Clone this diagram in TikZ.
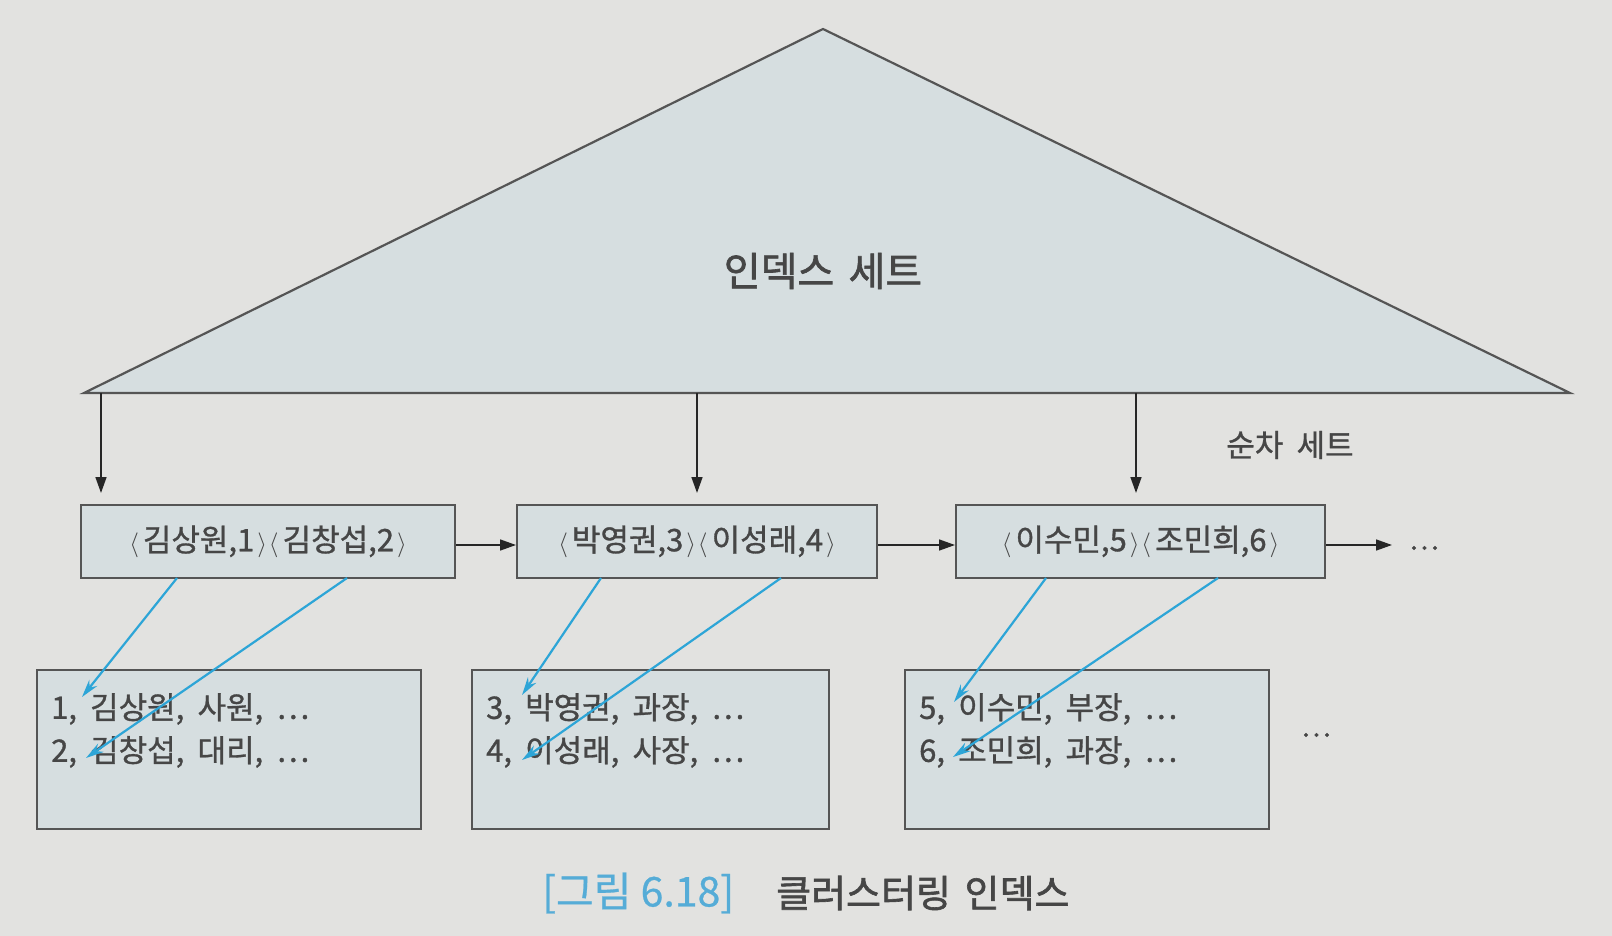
\documentclass[tikz,border=0pt]{standalone}
\usepackage{fontspec}
\setmainfont{Noto Sans CJK KR}
\newfontfamily\krmed{Noto Sans CJK KR}[FakeBold=1.0, WordSpace=1.9]
\newfontfamily\krbold{Noto Sans CJK KR}[FakeBold=1.6, WordSpace=1.6]
\newfontfamily\krcap{Noto Sans CJK KR}[FakeBold=0.6]
\usetikzlibrary{arrows.meta,calc}
\definecolor{bgc}{RGB}{226,226,224}
\definecolor{fillc}{RGB}{214,222,224}
\definecolor{linec}{RGB}{85,85,85}
\definecolor{txtc}{RGB}{70,70,70}
\definecolor{bluec}{RGB}{45,165,215}
\definecolor{capblue}{RGB}{85,172,215}
\newcommand{\lab}{\kern1pt$\langle$\kern4pt}
\newcommand{\rab}{\kern3pt$\rangle$\kern1pt}
\tikzset{
  tri/.style={draw=linec, fill=fillc, line width=2.2pt, line join=miter},
  topbox/.style={draw=linec, fill=fillc, line width=2pt, minimum height=73pt, inner sep=0pt,
    text=txtc, font=\krmed\fontsize{31}{36}\selectfont},
  botbox/.style={draw=linec, fill=fillc, line width=2pt, minimum height=159pt, inner sep=0pt},
  rowtext/.style={text=txtc, align=left, inner sep=0pt, anchor=north west,
    font=\krmed\fontsize{31}{43}\selectfont},
  darr/.style={draw=black!85, line width=1.6pt, -{Triangle[length=16pt,width=11pt]}},
  barr/.style={draw=bluec, line width=2.2pt, -{Stealth[length=18pt,width=10pt]}},
  lbl/.style={text=txtc, inner sep=0pt},
}
\begin{document}
\begin{tikzpicture}[x=1pt,y=-1pt]
\fill[bgc] (0,0) rectangle (1612,936);
\useasboundingbox (0,0) rectangle (1612,936);
% index set triangle
\draw[tri] (84,393) coordinate (bl) -- (823,29) coordinate (apex) -- (1570,393) coordinate (br) -- cycle;
\node[lbl, font=\krbold\fontsize{40}{48}\selectfont] (idx) at (823,271) {인덱스 세트};
\coordinate (b1) at (101,393);
\coordinate (b2) at (697,393);
\coordinate (b3) at (1136,393);
% sequence set
\node[topbox, minimum width=374pt] (t1) at (268,541.5) {\lab 김상원,1\rab\lab 김창섭,2\rab};
\node[topbox, minimum width=360pt] (t2) at (697,541.5) {\lab 박영권,3\rab\lab 이성래,4\rab};
\node[topbox, minimum width=369pt] (t3) at (1140.5,541.5) {\lab 이수민,5\rab\lab 조민희,6\rab};
\node[lbl, font=\krmed\fontsize{31}{36}\selectfont] (seq) at (1290,445) {순차 세트};
\node[lbl, font=\krmed\fontsize{28}{36}\selectfont] (dots1) at (1424,548) {⋯};
\coordinate (e3) at (1392,545);
\draw[darr, shorten >=11pt] (b1) -- (b1 |- t1.north);
\draw[darr, shorten >=11pt] (b2) -- (b2 |- t2.north);
\draw[darr, shorten >=11pt] (b3) -- (b3 |- t3.north);
\draw[darr] (t1.east |- 0,545) -- (t2.west |- 0,545);
\draw[darr] (t2.east |- 0,545) -- (t3.west |- 0,545);
\draw[darr] (t3.east |- 0,545) -- (e3);
% data blocks
\node[botbox, minimum width=384pt] (d1) at (229,749.5) {};
\node[botbox, minimum width=357pt] (d2) at (650.5,749.5) {};
\node[botbox, minimum width=364pt] (d3) at (1087,749.5) {};
\node[rowtext] (r1) at ($(d1.north west)+(15,24)$) {1, 김상원, 사원, ⋯\\2, 김창섭, 대리, ⋯};
\node[rowtext] (r2) at ($(d2.north west)+(15,24)$) {3, 박영권, 과장, ⋯\\4, 이성래, 사장, ⋯};
\node[rowtext] (r3) at ($(d3.north west)+(15,24)$) {5, 이수민, 부장, ⋯\\6, 조민희, 과장, ⋯};
\node[lbl, font=\krmed\fontsize{28}{36}\selectfont] (dots2) at (1316,735) {⋯};
% blue pointers
\coordinate (s1a) at (177,578); \coordinate (p1a) at (82,697);
\coordinate (s1b) at (347,578); \coordinate (p1b) at (86,758);
\coordinate (s2a) at (601,578); \coordinate (p2a) at (522,695);
\coordinate (s2b) at (781,578); \coordinate (p2b) at (522,760);
\coordinate (s3a) at (1046,578); \coordinate (p3a) at (954,702);
\coordinate (s3b) at (1218,578); \coordinate (p3b) at (953,757);
\draw[barr] (s1a) -- (p1a);
\draw[barr] (s1b) -- (p1b);
\draw[barr] (s2a) -- (p2a);
\draw[barr] (s2b) -- (p2b);
\draw[barr] (s3a) -- (p3a);
\draw[barr] (s3b) -- (p3b);
% caption
\node[inner sep=0pt, anchor=west, text=capblue, font=\krcap\fontsize{41}{44}\selectfont] (cap1) at (542,893) {[그림 6.18]};
\node[inner sep=0pt, anchor=west, text=txtc, font=\krbold\fontsize{38}{44}\selectfont] (cap2) at (776,893) {클러스터링 인덱스};
\end{tikzpicture}
\end{document}
